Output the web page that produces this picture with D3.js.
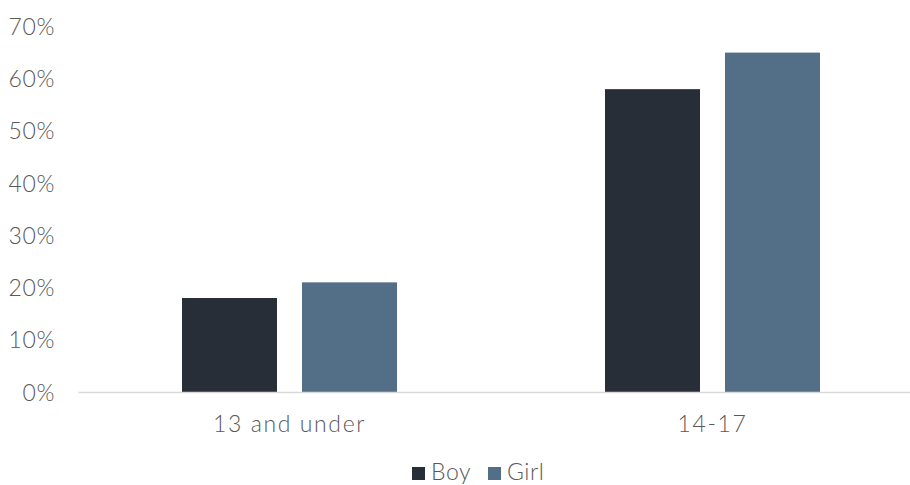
<!DOCTYPE html>
<html>
<head>
<meta charset="utf-8">
<script src="https://cdn.jsdelivr.net/npm/d3@7/dist/d3.min.js"></script>
<style>
  html, body { margin: 0; padding: 0; background: #fff; }
  svg text { font-family: "Century Gothic", "Lato", "DejaVu Sans", sans-serif; fill: #595959; font-weight: 300; letter-spacing: 0.6px; }
</style>
</head>
<body>
<svg id="chart" width="910" height="485"></svg>
<script>
// Share of respondents by age group and gender
const categories = ["13 and under", "14-17"];
const seriesNames = ["Boy", "Girl"];
const boyValues = [0.18, 0.58];
const girlValues = [0.21, 0.65];
const yTicks = [0, 0.1, 0.2, 0.3, 0.4, 0.5, 0.6, 0.7];

const colors = { Boy: "#272e37", Girl: "#536e87" };
const values = { Boy: boyValues, Girl: girlValues };
const fontSize = 23;

const svg = d3.select("#chart");
const plot = { left: 78, right: 924, top: 26.5, bottom: 392 };

const x0 = d3.scaleBand()
  .domain(categories)
  .range([plot.left, plot.right])
  .paddingInner(0)
  .paddingOuter(0);

const innerPad = 104; // space between band edge and first bar
const x1 = d3.scaleBand()
  .domain(seriesNames)
  .range([innerPad, x0.bandwidth() - innerPad])
  .paddingInner(25 / 120);

const y = d3.scaleLinear()
  .domain([0, 0.7])
  .range([plot.bottom, plot.top]);

// Y axis labels
const yAxis = d3.axisLeft(y)
  .tickValues(yTicks)
  .tickFormat(d3.format(".0%"))
  .tickSize(0)
  .tickPadding(0);

const yG = svg.append("g")
  .attr("transform", `translate(${55},0)`)
  .call(yAxis);
yG.select(".domain").remove();
yG.selectAll("text")
  .attr("font-size", fontSize)
  .attr("font-family", null)
  .attr("fill", "#595959")
  .attr("dy", "0.35em");

// Bars
const groups = svg.append("g")
  .selectAll("g")
  .data(categories)
  .join("g")
  .attr("transform", d => `translate(${x0(d)},0)`);

groups.selectAll("rect")
  .data((c, i) => seriesNames.map(s => ({ s, v: values[s][i] })))
  .join("rect")
  .attr("x", d => x1(d.s))
  .attr("width", x1.bandwidth())
  .attr("y", d => y(d.v))
  .attr("height", d => y(0) - y(d.v))
  .attr("fill", d => colors[d.s]);

// X axis baseline and category labels
const xAxis = d3.axisBottom(x0).tickSize(0).tickPadding(0);
const xG = svg.append("g")
  .attr("transform", `translate(0,${plot.bottom})`)
  .call(xAxis);
xG.select(".domain")
  .attr("stroke", "#d9d9d9")
  .attr("stroke-width", 1.5);
xG.selectAll("text")
  .attr("font-size", fontSize)
  .attr("font-family", null)
  .attr("fill", "#595959")
  .style("letter-spacing", "1.6px")
  .attr("dy", null)
  .attr("y", 40);

// Legend
const legend = svg.append("g").attr("transform", "translate(412,467)");
const legendItems = [
  { name: "Boy", dx: 0 },
  { name: "Girl", dx: 76 }
];
const li = legend.selectAll("g")
  .data(legendItems)
  .join("g")
  .attr("transform", d => `translate(${d.dx},0)`);
li.append("rect")
  .attr("width", 13)
  .attr("height", 13)
  .attr("fill", d => colors[d.name]);
li.append("text")
  .attr("x", 19)
  .attr("y", 13)
  .attr("font-size", fontSize)
  .text(d => d.name);
</script>
</body>
</html>
